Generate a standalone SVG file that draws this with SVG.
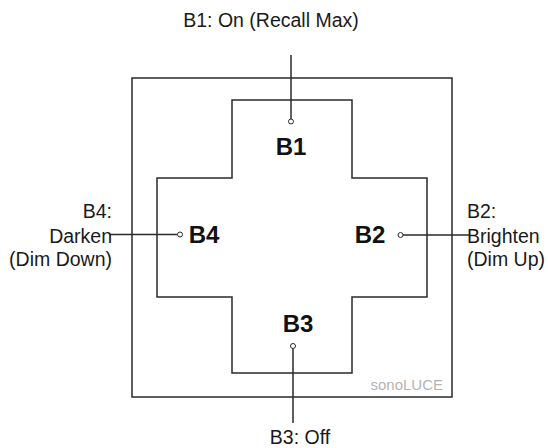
<svg xmlns="http://www.w3.org/2000/svg" width="548" height="448" viewBox="0 0 548 448">
<style>
.ln{fill:none;stroke:#2a2a2a;stroke-width:1.5}
.dot{fill:#fff;stroke:#2a2a2a;stroke-width:1}
.lbl{font-family:"Liberation Sans",Arial,sans-serif;font-size:19.5px;fill:#1a1a1a}
.btn{font-family:"Liberation Sans",Arial,sans-serif;font-size:24px;font-weight:bold;fill:#111}
.brand{font-family:"Liberation Sans",Arial,sans-serif;font-size:15px;fill:#b4b4b4}
</style>
<rect width="548" height="448" fill="#fff"/>
<g id="panel">
<rect class="ln" x="132" y="78" width="320" height="319"/>
<path class="ln" d="M232,100 H352 V178 H427 V297 H352 V373 H232 V297 H157 V178 H232 Z"/>
<text class="brand" x="443" y="390" text-anchor="end">sonoLUCE</text>
</g>
<g id="connectors">
<line class="ln" x1="291" y1="55" x2="291" y2="119"/>
<line class="ln" x1="110" y1="234.5" x2="177.5" y2="234.5"/>
<line class="ln" x1="403" y1="235" x2="470" y2="235"/>
<line class="ln" x1="293" y1="348.5" x2="293" y2="423"/>
</g>
<g id="B1">
<circle class="dot" cx="291" cy="121.5" r="2.5"/>
<text class="btn" x="291" y="155" text-anchor="middle">B1</text>
<text class="lbl" x="271" y="27" text-anchor="middle">B1: On (Recall Max)</text>
</g>
<g id="B2">
<circle class="dot" cx="400.5" cy="235" r="2.5"/>
<text class="btn" x="370" y="243" text-anchor="middle">B2</text>
<text class="lbl" x="467" y="218">B2:</text>
<text class="lbl" x="467" y="243">Brighten</text>
<text class="lbl" x="467" y="266">(Dim Up)</text>
</g>
<g id="B3">
<circle class="dot" cx="293" cy="346" r="2.5"/>
<text class="btn" x="298" y="332" text-anchor="middle">B3</text>
<text class="lbl" x="300" y="444" text-anchor="middle">B3: Off</text>
</g>
<g id="B4">
<circle class="dot" cx="180" cy="234.5" r="2.5"/>
<text class="btn" x="204" y="243" text-anchor="middle">B4</text>
<text class="lbl" x="112" y="218" text-anchor="end">B4:</text>
<text class="lbl" x="112" y="243" text-anchor="end">Darken</text>
<text class="lbl" x="112" y="266" text-anchor="end">(Dim Down)</text>
</g>
</svg>
